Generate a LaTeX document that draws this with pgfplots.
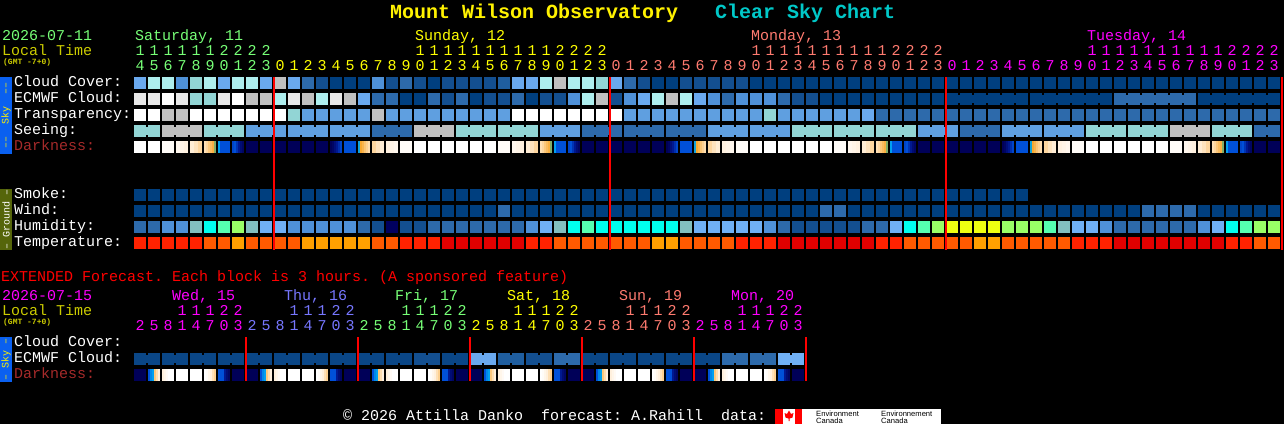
\documentclass[border=0pt]{standalone}
\usepackage{fontspec}
\usepackage{pgfplots}
\usepackage{pgfplotstable}
\pgfplotsset{compat=1.18}
\setmainfont{Liberation Mono}
\newfontfamily\sansf{Liberation Sans}

\newcommand{\tf}{\fontsize{15}{15}\selectfont}
\newcommand{\gf}{\fontsize{8}{8}\selectfont\bfseries}
\newcommand{\vf}{\fontsize{10}{10}\selectfont}
\newcommand{\hf}{\fontsize{20}{20}\selectfont\bfseries}

% sky palette
\definecolor{cA}{HTML}{003F7F}
\definecolor{cB}{HTML}{134F90}
\definecolor{cC}{HTML}{2D6AAB}
\definecolor{cD}{HTML}{4F91D8}
\definecolor{cE}{HTML}{5F9FE0}
\definecolor{cF}{HTML}{6AA9EE}
\definecolor{cG}{HTML}{AEEEEE}
\definecolor{cH}{HTML}{92D5D5}
\definecolor{cI}{HTML}{C0C0C0}
\definecolor{cJ}{HTML}{E8E8E8}
\definecolor{cK}{HTML}{FFFFFF}
\definecolor{cW}{HTML}{0A4686}
\definecolor{cX}{HTML}{1F5E9F}
% humidity
\definecolor{cL}{HTML}{82BFBF}
\definecolor{cM}{HTML}{00FFEE}
\definecolor{cN}{HTML}{55FFB0}
\definecolor{cO}{HTML}{99FF66}
\definecolor{cP}{HTML}{70B0F5}
\definecolor{cQ}{HTML}{00005F}
\definecolor{cR}{HTML}{EEFF11}
% temperature
\definecolor{cS}{HTML}{E00000}
\definecolor{cT}{HTML}{FF2200}
\definecolor{cU}{HTML}{FF5A00}
\definecolor{cV}{HTML}{FFA000}
% text
\definecolor{dsat}{HTML}{77FF77}
\definecolor{dsun}{HTML}{FFFF00}
\definecolor{dmon}{HTML}{FF7B70}
\definecolor{dtue}{HTML}{FF00FF}
\definecolor{dthu}{HTML}{7777FF}
\definecolor{ltime}{HTML}{CCCC00}
\definecolor{dkness}{HTML}{A52A2A}
\definecolor{skybar}{HTML}{0A60F0}
\definecolor{gndbar}{HTML}{55650A}
\definecolor{ttl}{HTML}{00C8C8}

\pgfdeclareplotmark{blk}{\pgfpathrectangle{\pgfpoint{-6pt}{-6pt}}{\pgfpoint{12pt}{12pt}}\pgfusepathqfill}
\pgfdeclareplotmark{strp}{\pgfpathrectangle{\pgfpoint{-1.05pt}{-6pt}}{\pgfpoint{2.1pt}{12pt}}\pgfusepathqfill}
\pgfdeclareplotmark{strq}{\pgfpathrectangle{\pgfpoint{-2.05pt}{-6pt}}{\pgfpoint{4.1pt}{12pt}}\pgfusepathqfill}
\pgfdeclareplotmark{brd}{\pgfpathrectangle{\pgfpoint{-1.1pt}{-4pt}}{\pgfpoint{2.2pt}{8pt}}\pgfusepathqfill}

\tikzset{tt/.style={anchor=base west,inner sep=0pt,font=\tf,text=white}}

\pgfplotsset{
  cls/.style={only marks,scatter,mark=#1,point meta=explicit symbolic},
  cls/.default=blk,
  dark/.style={only marks,scatter,mark=#1,point meta=explicit,
    scatter/use mapped color={color=mapped color}},
  dig/.style={only marks,mark=none,nodes near coords,point meta=explicit symbolic,
    nodes near coords align={anchor=base},
    every node near coord/.append style={font=\tf,text=#1,inner sep=0pt}},
  px/.style={at={(0,0)},anchor=south west,x=1pt,y=1pt,
    xmin=0,xmax=1284,ymin=0,ymax=424,y dir=reverse,
    hide axis,clip=false,unbounded coords=jump},
}

% i cloud ecmwf transp seeing smoke wind hum temp dark tens units
\pgfplotstableread{
i cc ec tr se sm wi hu te dk t h
0 F J K H A A C T 8 1 4
1 G J K H A A C T 8 1 5
2 G K I I A A D T 7.8 1 6
3 D J I I A A D T 7.3 1 7
4 H H K I A A L T 6.5 1 8
5 G H K H A A M U 5.5 1 9
6 F J K H A A N U 2 2 0
7 G K K H A A O V 1 2 1
8 G I K E A A L U 0 2 2
9 F I K E A A P U 0 2 3
10 I G K E A A P U 0 0 0
11 F J H E A A D U 0 0 1
12 C I E E A A D V 0 0 2
13 B G E E A A D V 0 0 3
14 A J E E A A D V .8 0 4
15 A I E E A A D V 2 0 5
16 A F E E A A C V 5 0 6
17 D C I C A A B U 6.5 0 7
18 B C E C A A Q U 7.3 0 8
19 C A E C A A B T 7.8 0 9
20 B A E I A A B T 8 1 0
21 A C E I A A C T 8 1 1
22 B B E I A A C S 8 1 2
23 B C E H A A C S 8 1 3
24 B A E H A A C S 8 1 4
25 B B E H A A C S 8 1 5
26 X B E H A C C S 7.8 1 6
27 F C K H A A C S 7.3 1 7
28 F A K H A A D T 6.5 1 8
29 G B K E A A P T 5.5 1 9
30 I B K E A A L U 2 2 0
31 G D K E A A M U 1 2 1
32 G G K C A A N U 0 2 2
33 H I K C A A M U 0 2 3
34 F B K C A A M U 0 0 0
35 C D E C A A M U 0 0 1
36 B F E C A A M U 0 0 2
37 A G E C A A M V 0 0 3
38 A I E C A A M V .8 0 4
39 B G E C A A L U 2 0 5
40 B F E C A A P U 5 0 6
41 B D E E A A P U 6.5 0 7
42 B C E E A A P U 7.3 0 8
43 B D E E A A P T 7.8 0 9
44 A D E E A A P T 8 1 0
45 A D H E A A D T 8 1 1
46 A C E E A A C S 8 1 2
47 A B E H A A B S 8 1 3
48 A B E H A A B S 8 1 4
49 A A E H A C B S 8 1 5
50 A A E H A C B S 7.8 1 6
51 A A E H A A B S 7.3 1 7
52 A A F H A A C S 6.5 1 8
53 A A C H A A C T 5.5 1 9
54 A A C H A A P T 2 2 0
55 A A C H A A M U 1 2 1
56 A A C E A A N U 0 2 2
57 A A C E A A O U 0 2 3
58 A A C E A A R U 0 0 0
59 A A C C A A R U 0 0 1
60 A A C C A A R V 0 0 2
61 A A C C A A R V 0 0 3
62 A A C E A A O U .8 0 4
63 A A C E A A O U 2 0 5
64 A A C E A A O U 5 0 6
65 A A C E A A N U 6.5 0 7
66 A A C E A A L U 7.3 0 8
67 A A C E A A P T 7.8 0 9
68 A A C H A A P T 8 1 0
69 A A C H A A D T 8 1 1
70 A C C H A A C S 8 1 2
71 A C C H A A C S 8 1 3
72 A C C H A C C S 8 1 4
73 A C C H A C C S 8 1 5
74 A C C I A C C S 7.8 1 6
75 A C C I A C C S 7.3 1 7
76 A A C I A A D S 6.5 1 8
77 A A C H A A P S 5.5 1 9
78 A A C H A A M T 2 2 0
79 A A C H A A N T 1 2 1
80 A A C C A A O U 0 2 2
81 A A C C A A O U 0 2 3
}\mainT

% extended forecast, 3 hour blocks
\pgfplotstableread{
i ec dk t h
0 W 0 x 2
1 W 4 x 5
2 W 8 x 8
3 W 8 1 1
4 W 8 1 4
5 W 7 1 7
6 W 1.5 2 0
7 W 0 2 3
8 W 0 x 2
9 W 4 x 5
10 W 8 x 8
11 W 8 1 1
12 W 8 1 4
13 W 7 1 7
14 W 1.5 2 0
15 W 0 2 3
16 W 0 x 2
17 W 4 x 5
18 W 8 x 8
19 W 8 1 1
20 B 8 1 4
21 B 7 1 7
22 W 1.5 2 0
23 W 0 2 3
24 F 0 x 2
25 F 4 x 5
26 X 8 x 8
27 X 8 1 1
28 B 8 1 4
29 B 7 1 7
30 C 1.5 2 0
31 C 0 2 3
32 W 0 x 2
33 W 4 x 5
34 W 8 x 8
35 W 8 1 1
36 W 8 1 4
37 W 7 1 7
38 W 1.5 2 0
39 W 0 2 3
40 W 0 x 2
41 W 4 x 5
42 C 8 x 8
43 C 8 1 1
44 C 8 1 4
45 C 7 1 7
46 P 1.5 2 0
47 P 0 2 3
}\extT

% darkness gradients, 2px strips
\pgfplotstableread[row sep=\\]{
x m\\
205 6.5\\207 6.2\\209 5.8\\211 5.5\\213 5.2\\215 4.3\\219 3\\
233 1.8\\235 2\\237 1.5\\239 1\\241 .5\\243 .2\\
331 0\\333 .2\\335 .6\\337 1\\339 1.4\\341 1.8\\
359 3.2\\361 5\\363 5.3\\365 5.7\\367 6\\369 6.4\\
541 6.5\\543 6.2\\545 5.8\\547 5.5\\549 5.2\\551 4.3\\555 3\\
569 1.8\\571 2\\573 1.5\\575 1\\577 .5\\579 .2\\
667 0\\669 .2\\671 .6\\673 1\\675 1.4\\677 1.8\\
695 3.2\\697 5\\699 5.3\\701 5.7\\703 6\\705 6.4\\
877 6.5\\879 6.2\\881 5.8\\883 5.5\\885 5.2\\887 4.3\\891 3\\
905 1.8\\907 2\\909 1.5\\911 1\\913 .5\\915 .2\\
1003 0\\1005 .2\\1007 .6\\1009 1\\1011 1.4\\1013 1.8\\
1031 3.2\\1033 5\\1035 5.3\\1037 5.7\\1039 6\\1041 6.4\\
1213 6.5\\1215 6.2\\1217 5.8\\1219 5.5\\1221 5.2\\1223 4.3\\1227 3\\
1241 1.8\\1243 2\\1245 1.5\\1247 1\\1249 .5\\1251 .2\\
}\stripsM

% paler dusk and dawn blocks, 4px strips
\pgfplotstableread[row sep=\\]{
x m\\
178 7.5\\182 7.3\\186 7.1\\192 6.9\\196 6.6\\200 6.2\\
374 6.2\\378 6.6\\382 6.9\\388 7.1\\392 7.3\\396 7.5\\
514 7.5\\518 7.3\\522 7.1\\528 6.9\\532 6.6\\536 6.2\\
710 6.2\\714 6.6\\718 6.9\\724 7.1\\728 7.3\\732 7.5\\
850 7.5\\854 7.3\\858 7.1\\864 6.9\\868 6.6\\872 6.2\\
1046 6.2\\1050 6.6\\1054 6.9\\1060 7.1\\1064 7.3\\1068 7.5\\
1186 7.5\\1190 7.3\\1194 7.1\\1200 6.9\\1204 6.6\\1208 6.2\\
}\stripsP

\pgfplotstableread[row sep=\\]{
x m\\
149 2\\151 2.7\\153 3\\155 5.8\\157 6.4\\159 7\\163 7\\165 7.4\\167 7.7\\
205 8\\207 7.8\\209 7.4\\211 7\\213 6.5\\215 6\\219 2\\221 2\\223 2\\225 1\\227 .5\\229 .2\\
261 2\\263 2.7\\265 3\\267 5.8\\269 6.4\\271 7\\275 7\\277 7.4\\279 7.7\\
317 8\\319 7.8\\321 7.4\\323 7\\325 6.5\\327 6\\331 2\\333 2\\335 2\\337 1\\339 .5\\341 .2\\
373 2\\375 2.7\\377 3\\379 5.8\\381 6.4\\383 7\\387 7\\389 7.4\\391 7.7\\
429 8\\431 7.8\\433 7.4\\435 7\\437 6.5\\439 6\\443 2\\445 2\\447 2\\449 1\\451 .5\\453 .2\\
485 2\\487 2.7\\489 3\\491 5.8\\493 6.4\\495 7\\499 7\\501 7.4\\503 7.7\\
541 8\\543 7.8\\545 7.4\\547 7\\549 6.5\\551 6\\555 2\\557 2\\559 2\\561 1\\563 .5\\565 .2\\
597 2\\599 2.7\\601 3\\603 5.8\\605 6.4\\607 7\\611 7\\613 7.4\\615 7.7\\
653 8\\655 7.8\\657 7.4\\659 7\\661 6.5\\663 6\\667 2\\669 2\\671 2\\673 1\\675 .5\\677 .2\\
709 2\\711 2.7\\713 3\\715 5.8\\717 6.4\\719 7\\723 7\\725 7.4\\727 7.7\\
765 8\\767 7.8\\769 7.4\\771 7\\773 6.5\\775 6\\779 2\\781 2\\783 2\\785 1\\787 .5\\789 .2\\
}\stripsE

\begin{document}
\frenchspacing
\begin{tikzpicture}
\useasboundingbox (0,0) rectangle (1284pt,424pt);
\fill[black] (0,0) rectangle (1284pt,424pt);
\begin{axis}[
    px,
    point meta min=0,point meta max=8,
    colormap={dk}{rgb255=(0,0,88) rgb255=(0,24,144) rgb255=(0,80,216) rgb255=(0,160,240)
      rgb255=(80,176,128) rgb255=(248,168,48) rgb255=(253,208,144) rgb255=(255,240,221) rgb255=(255,255,255)},
    colormap name=dk,
    scatter/classes={
      A={color=cA},B={color=cB},C={color=cC},D={color=cD},E={color=cE},F={color=cF},
      G={color=cG},H={color=cH},I={color=cI},J={color=cJ},K={color=cK},L={color=cL},
      M={color=cM},N={color=cN},O={color=cO},P={color=cP},Q={color=cQ},R={color=cR},
      S={color=cS},T={color=cT},U={color=cU},V={color=cV},W={color=cW},X={color=cX}},
]
% main rows
\addplot[cls] table[x expr=\thisrow{i}*14+140,y expr=83,meta=cc]{\mainT};
\addplot[cls] table[x expr=\thisrow{i}*14+140,y expr=99,meta=ec]{\mainT};
\addplot[cls] table[x expr=\thisrow{i}*14+140,y expr=115,meta=tr]{\mainT};
\addplot[cls] table[x expr=\thisrow{i}*14+140,y expr=131,meta=se]{\mainT};
\addplot[cls,restrict x to domain=0:1030] table[x expr=\thisrow{i}*14+140,y expr=195,meta=sm]{\mainT};
\addplot[cls] table[x expr=\thisrow{i}*14+140,y expr=211,meta=wi]{\mainT};
\addplot[cls] table[x expr=\thisrow{i}*14+140,y expr=227,meta=hu]{\mainT};
\addplot[cls] table[x expr=\thisrow{i}*14+140,y expr=243,meta=te]{\mainT};
% merged blocks
\addplot[cls=brd] table[x expr=\thisrow{i}*14+147,y expr={(mod(\thisrow{i},3)==1||\thisrow{i}==81)?nan:131},meta=se]{\mainT};
\addplot[cls=brd] table[x expr=\thisrow{i}*14+147,y expr={(\thisrow{i}<58||mod(\thisrow{i}-58,6)==5)?nan:99},meta=ec]{\mainT};
% darkness
\addplot[dark=blk] table[x expr=\thisrow{i}*14+140,y expr=147,meta=dk]{\mainT};
\addplot[dark=strp] table[x=x,y expr=147,meta=m]{\stripsM};
\addplot[dark=strq] table[x=x,y expr=147,meta=m]{\stripsP};
% extended
\addplot[cls] table[x expr=\thisrow{i}*14+140,y expr=359,meta=ec]{\extT};
\addplot[cls=brd] table[x expr=\thisrow{i}*14+147,y expr={mod(\thisrow{i},2)==1?nan:359},meta=ec]{\extT};
\addplot[dark=blk] table[x expr=\thisrow{i}*14+140,y expr=375,meta=dk]{\extT};
\addplot[dark=strp] table[x=x,y expr=375,meta=m]{\stripsE};
% hour digits
\addplot[dig=dsat,restrict x to domain=130:270] table[x expr=\thisrow{i}*14+140,y expr=55,meta=t]{\mainT};
\addplot[dig=dsun,restrict x to domain=415:605] table[x expr=\thisrow{i}*14+140,y expr=55,meta=t]{\mainT};
\addplot[dig=dmon,restrict x to domain=750:940] table[x expr=\thisrow{i}*14+140,y expr=55,meta=t]{\mainT};
\addplot[dig=dtue,restrict x to domain=1085:1280] table[x expr=\thisrow{i}*14+140,y expr=55,meta=t]{\mainT};
\addplot[dig=dsat,restrict x to domain=130:270] table[x expr=\thisrow{i}*14+140,y expr=70,meta=h]{\mainT};
\addplot[dig=dsun,restrict x to domain=275:605] table[x expr=\thisrow{i}*14+140,y expr=70,meta=h]{\mainT};
\addplot[dig=dmon,restrict x to domain=610:940] table[x expr=\thisrow{i}*14+140,y expr=70,meta=h]{\mainT};
\addplot[dig=dtue,restrict x to domain=945:1280] table[x expr=\thisrow{i}*14+140,y expr=70,meta=h]{\mainT};
% extended hour digits
\addplot[dig=dtue,restrict x to domain=130:245] table[x expr=\thisrow{i}*14+140,y expr={mod(\thisrow{i},8)<3?nan:315},meta=t]{\extT};
\addplot[dig=dthu,restrict x to domain=246:357] table[x expr=\thisrow{i}*14+140,y expr={mod(\thisrow{i},8)<3?nan:315},meta=t]{\extT};
\addplot[dig=dsat,restrict x to domain=358:469] table[x expr=\thisrow{i}*14+140,y expr={mod(\thisrow{i},8)<3?nan:315},meta=t]{\extT};
\addplot[dig=dsun,restrict x to domain=470:581] table[x expr=\thisrow{i}*14+140,y expr={mod(\thisrow{i},8)<3?nan:315},meta=t]{\extT};
\addplot[dig=dmon,restrict x to domain=582:693] table[x expr=\thisrow{i}*14+140,y expr={mod(\thisrow{i},8)<3?nan:315},meta=t]{\extT};
\addplot[dig=dtue,restrict x to domain=694:806] table[x expr=\thisrow{i}*14+140,y expr={mod(\thisrow{i},8)<3?nan:315},meta=t]{\extT};
\addplot[dig=dtue,restrict x to domain=130:245] table[x expr=\thisrow{i}*14+140,y expr=330,meta=h]{\extT};
\addplot[dig=dthu,restrict x to domain=246:357] table[x expr=\thisrow{i}*14+140,y expr=330,meta=h]{\extT};
\addplot[dig=dsat,restrict x to domain=358:469] table[x expr=\thisrow{i}*14+140,y expr=330,meta=h]{\extT};
\addplot[dig=dsun,restrict x to domain=470:581] table[x expr=\thisrow{i}*14+140,y expr=330,meta=h]{\extT};
\addplot[dig=dmon,restrict x to domain=582:693] table[x expr=\thisrow{i}*14+140,y expr=330,meta=h]{\extT};
\addplot[dig=dtue,restrict x to domain=694:806] table[x expr=\thisrow{i}*14+140,y expr=330,meta=h]{\extT};

% title
\node[tt,font=\hf,text=yellow] at (axis cs:390,18) {Mount Wilson Observatory};
\node[tt,font=\hf,text=ttl] at (axis cs:715,18) {Clear Sky Chart};
% header left
\node[tt,text=dsat] at (axis cs:2,40) {2026-07-11};
\node[tt,text=ltime] at (axis cs:2,55) {Local Time};
\node[tt,font=\gf,text=ltime] at (axis cs:3,64) {(GMT -7+0)};
\node[tt,text=dsat] at (axis cs:135,40) {Saturday, 11};
\node[tt,text=dsun] at (axis cs:415,40) {Sunday, 12};
\node[tt,text=dmon] at (axis cs:751,40) {Monday, 13};
\node[tt,text=dtue] at (axis cs:1087,40) {Tuesday, 14};
% row labels
\node[tt] at (axis cs:14,86) {Cloud Cover:};
\node[tt] at (axis cs:14,102) {ECMWF Cloud:};
\node[tt] at (axis cs:14,118) {Transparency:};
\node[tt] at (axis cs:14,134) {Seeing:};
\node[tt,text=dkness] at (axis cs:14,150) {Darkness:};
\node[tt] at (axis cs:14,198) {Smoke:};
\node[tt] at (axis cs:14,214) {Wind:};
\node[tt] at (axis cs:14,230) {Humidity:};
\node[tt] at (axis cs:14,246) {Temperature:};
% side bars
\fill[skybar] (axis cs:0,77) rectangle (axis cs:12,154);
\fill[gndbar] (axis cs:0,189) rectangle (axis cs:12,250);
\fill[skybar] (axis cs:0,337) rectangle (axis cs:12,382);
\node[rotate=90,inner sep=0pt,font=\vf,text=yellow] at (axis cs:6,115.5) {––~~Sky~~––};
\node[rotate=90,inner sep=0pt,font=\vf,text=white] at (axis cs:6,219.5) {–~Ground~–};
\node[rotate=90,inner sep=0pt,font=\vf,text=yellow] at (axis cs:6,359.5) {–~Sky~–};
% extended header
\node[tt,text=red] at (axis cs:1,281) {EXTENDED Forecast. Each block is 3 hours. (A sponsored feature)};
\node[tt,text=dtue] at (axis cs:2,300) {2026-07-15};
\node[tt,text=ltime] at (axis cs:2,315) {Local Time};
\node[tt,font=\gf,text=ltime] at (axis cs:3,324) {(GMT -7+0)};
\node[tt,text=dtue] at (axis cs:172,300) {Wed, 15};
\node[tt,text=dthu] at (axis cs:284,300) {Thu, 16};
\node[tt,text=dsat] at (axis cs:395,300) {Fri, 17};
\node[tt,text=dsun] at (axis cs:507,300) {Sat, 18};
\node[tt,text=dmon] at (axis cs:619,300) {Sun, 19};
\node[tt,text=dtue] at (axis cs:731,300) {Mon, 20};
\node[tt] at (axis cs:14,346) {Cloud Cover:};
\node[tt] at (axis cs:14,362) {ECMWF Cloud:};
\node[tt,text=dkness] at (axis cs:14,378) {Darkness:};
% footer
\node[tt] at (axis cs:343,420) {© 2026 Attilla Danko~~forecast: A.Rahill~~data:};
\fill[white] (axis cs:775,409) rectangle (axis cs:941,424);
\fill[red] (axis cs:775,409) rectangle (axis cs:783,424);
\fill[red] (axis cs:795,409) rectangle (axis cs:802,424);
\fill[red] (axis cs:789,410.5) -- (axis cs:791,414) -- (axis cs:793.5,413) -- (axis cs:792.5,417.5) -- (axis cs:789.5,418.5) -- (axis cs:789.5,421) -- (axis cs:788.5,421) -- (axis cs:788.5,418.5) -- (axis cs:785.5,417.5) -- (axis cs:784.5,413) -- (axis cs:787,414) -- cycle;
\node[tt,font=\sansf\fontsize{7.6}{7.6}\selectfont,text=black] at (axis cs:816,416) {Environment};
\node[tt,font=\sansf\fontsize{7.6}{7.6}\selectfont,text=black] at (axis cs:816,423.5) {Canada};
\node[tt,font=\sansf\fontsize{7.6}{7.6}\selectfont,text=black] at (axis cs:881,416) {Environnement};
\node[tt,font=\sansf\fontsize{7.6}{7.6}\selectfont,text=black] at (axis cs:881,423.5) {Canada};
\end{axis}
% day boundaries go over the blocks, marks of the first axis are drawn last
\begin{axis}[px]
\addplot[red,line width=2pt] coordinates {(274,77)(274,250)(274,nan)(610,77)(610,250)(610,nan)(946,77)(946,250)(946,nan)(1282,77)(1282,250)};
\addplot[red,line width=2pt] coordinates {(246,337)(246,381)(246,nan)(358,337)(358,381)(358,nan)(470,337)(470,381)(470,nan)(582,337)(582,381)(582,nan)(694,337)(694,381)(694,nan)(806,337)(806,381)};
\end{axis}
\end{tikzpicture}
\end{document}
